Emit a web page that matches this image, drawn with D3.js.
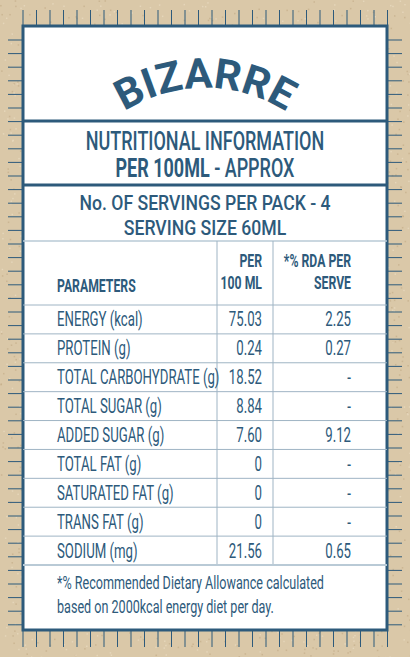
<!DOCTYPE html><html><head><meta charset="utf-8"><script src="https://cdn.jsdelivr.net/npm/d3@7"></script>
<style>body{margin:0;background:#d9c7a7}</style></head><body><script>
const params=["ENERGY (kcal)","PROTEIN (g)","TOTAL CARBOHYDRATE (g)","TOTAL SUGAR (g)","ADDED SUGAR (g)","TOTAL FAT (g)","SATURATED FAT (g)","TRANS FAT (g)","SODIUM (mg)"];
const per100=["75.03","0.24","18.52","8.84","7.60","0","0","0","21.56"];
const rda=["2.25","0.27","-","-","9.12","-","-","-","0.65"];
const W=410,H=657,C="#2d5a7b",F="Roboto, 'Liberation Sans', sans-serif";
const svg=d3.select("body").append("svg").attr("width",W).attr("height",H);
const rnd=d3.randomLcg(7);
svg.append("rect").attr("width",W).attr("height",H).attr("fill","#dac8a8");
const g0=svg.append("g");
for(let i=0;i<2500;i++){g0.append("rect").attr("x",rnd()*W).attr("y",rnd()*H).attr("width",1.5).attr("height",1.5).attr("fill",rnd()<0.5?"#c4ae8a":"#eadcc2").attr("opacity",0.7);}
const L=23,R=387,T=26,B=630;
const tx=d3.range(L,R+1,13.5), ty=d3.range(T+14,B,13.6);
tx.forEach(x=>{svg.append("line").attr("x1",x).attr("x2",x).attr("y1",10).attr("y2",T).attr("stroke",C);svg.append("line").attr("x1",x).attr("x2",x).attr("y1",B).attr("y2",647).attr("stroke",C);});
ty.forEach(y=>{svg.append("line").attr("x1",8).attr("x2",L).attr("y1",y).attr("y2",y).attr("stroke",C);svg.append("line").attr("x1",R).attr("x2",402).attr("y1",y).attr("y2",y).attr("stroke",C);});
svg.append("rect").attr("x",L).attr("y",T).attr("width",R-L).attr("height",B-T).attr("fill","#fff").attr("stroke",C).attr("stroke-width",3);
const hl=(y,w,c)=>svg.append("line").attr("x1",L).attr("x2",R).attr("y1",y).attr("y2",y).attr("stroke",c||C).attr("stroke-width",w);
hl(121,3);hl(185,3);hl(241,1.5,"#b9cad6");
function txt(x,y,s,size,wt,anchor,sx){return svg.append("text").attr("transform",`translate(${x},${y}) scale(${sx||0.72},1)`).attr("font-family",F).attr("font-size",size).attr("font-weight",wt||400).attr("fill",C).attr("text-anchor",anchor||"start").text(s);}
const cx=205,cy=238,r=150;
svg.append("path").attr("id","tp").attr("fill","none").attr("d",`M ${cx-r},${cy} A ${r},${r} 0 0 1 ${cx+r},${cy}`);
svg.append("text").attr("font-family",F).attr("font-size",42).attr("font-weight",700).attr("fill",C)
 .append("textPath").attr("href","#tp").attr("startOffset","50%").attr("text-anchor","middle").text("BIZARRE");
txt(205,150,"NUTRITIONAL INFORMATION",25,500,"middle");
const t2=svg.append("text").attr("transform","translate(205,177) scale(0.72,1)").attr("font-family",F).attr("font-size",25).attr("fill",C).attr("text-anchor","middle");
t2.append("tspan").attr("font-weight",700).text("PER 100ML");t2.append("tspan").attr("font-weight",500).text(" - APPROX");
txt(205,210,"No. OF SERVINGS PER PACK - 4",21,500,"middle",0.84);
txt(205,235,"SERVING SIZE 60ML",21,500,"middle",0.84);
const y=d3.scaleBand().domain(params).range([305,565]);
const c1=217,c2=273;
svg.append("line").attr("x1",c1).attr("x2",c1).attr("y1",241).attr("y2",565).attr("stroke","#9fb4c4");
svg.append("line").attr("x1",c2).attr("x2",c2).attr("y1",241).attr("y2",565).attr("stroke","#9fb4c4");
txt(57,292,"PARAMETERS",18,700,"start",0.68);
txt(262,267,"PER",18,700,"end",0.68);txt(262,289,"100 ML",18,700,"end",0.68);
txt(351,267,"*% RDA PER",18,700,"end",0.68);txt(351,289,"SERVE",18,700,"end",0.68);
hl(305,1,"#9fb4c4");
params.forEach((p,i)=>{const yy=y(p)+y.bandwidth()/2+7;
 txt(57,yy,p,20,400,"start",0.66);txt(262,yy,per100[i],20,400,"end",0.66);txt(351,yy,rda[i],20,400,"end",0.66);
 hl(y(p)+y.bandwidth(),i==params.length-1?2:1,i==params.length-1?"#b9cad6":"#9fb4c4");});
txt(57,589,"*% Recommended Dietary Allowance calculated",18,400,"start",0.7);
txt(57,613,"based on 2000kcal energy diet per day.",18,400,"start",0.7);
</script></body></html>
